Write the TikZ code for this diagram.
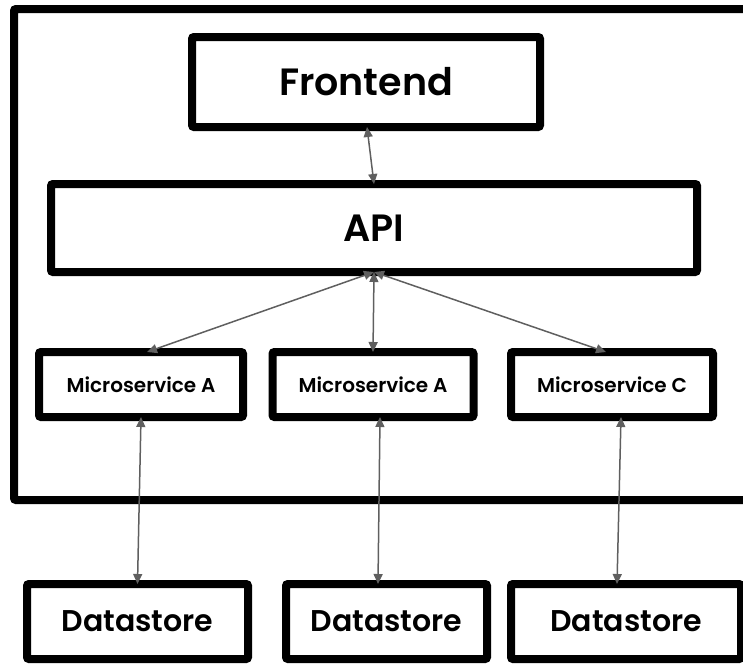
\documentclass[tikz,border=0pt]{standalone}
\usepackage{fontspec}
\setmainfont{Poppins}[BoldFont={Poppins SemiBold}]
\usetikzlibrary{arrows.meta}
\definecolor{linkgray}{HTML}{5F5F5F}
\tikzset{
  box/.style={draw=black, line width=8pt, rounded corners=2pt, fill=white,
    inner sep=0pt, outer sep=0pt, font=\bfseries},
  link/.style={draw=linkgray, line width=1.5pt,
    {Triangle[length=10pt,width=9pt]}-{Triangle[length=10pt,width=9pt]}},
}
\begin{document}
\begin{tikzpicture}[x=1pt, y=-1pt]
  \useasboundingbox (0,0) rectangle (743,664);
  \clip (0,0) rectangle (743,664);

  % system boundary (right side runs past the page)
  \draw[line width=8pt, rounded corners=2pt] (14,9) rectangle (780,500);

  % layers
  \node[box, minimum width=348pt, minimum height=90pt, font=\fontsize{38}{40}\selectfont\bfseries]
    (fe) at (366,82) {Frontend};
  \node[box, minimum width=646pt, minimum height=88pt, font=\fontsize{38}{40}\selectfont\bfseries]
    (api) at (374,228) {API};

  \node[box, minimum width=204pt, minimum height=65pt, font=\fontsize{20}{22}\selectfont\bfseries]
    (ms1) at (141,384.5) {Microservice A};
  \node[box, minimum width=201pt, minimum height=65pt, font=\fontsize{20}{22}\selectfont\bfseries]
    (ms2) at (373,384.5) {Microservice A};
  \node[box, minimum width=202pt, minimum height=65pt, font=\fontsize{20}{22}\selectfont\bfseries]
    (ms3) at (612,384.5) {Microservice C};

  \node[box, minimum width=221pt, minimum height=75pt, font=\fontsize{30}{32}\selectfont\bfseries]
    (ds1) at (137.5,621.5) {Datastore};
  \node[box, minimum width=201pt, minimum height=75pt, font=\fontsize{30}{32}\selectfont\bfseries]
    (ds2) at (386.5,621.5) {Datastore};
  \node[box, minimum width=230pt, minimum height=75pt, font=\fontsize{30}{32}\selectfont\bfseries]
    (ds3) at (626,621.5) {Datastore};

  % connections
  \draw[link] ([xshift=1pt]fe.south) -- (api.north);
  \draw[link] (api.south) -- ([xshift=6pt]ms1.north);
  \draw[link] (api.south) -- (ms2.north);
  \draw[link] (api.south) -- ([xshift=-6pt]ms3.north);

  \draw[link] (ms1.south) -- (ds1.north);
  \draw[link] ([xshift=7pt]ms2.south) -- ([xshift=-8.5pt]ds2.north);
  \draw[link] ([xshift=9pt]ms3.south) -- ([xshift=-9pt]ds3.north);
\end{tikzpicture}
\end{document}
